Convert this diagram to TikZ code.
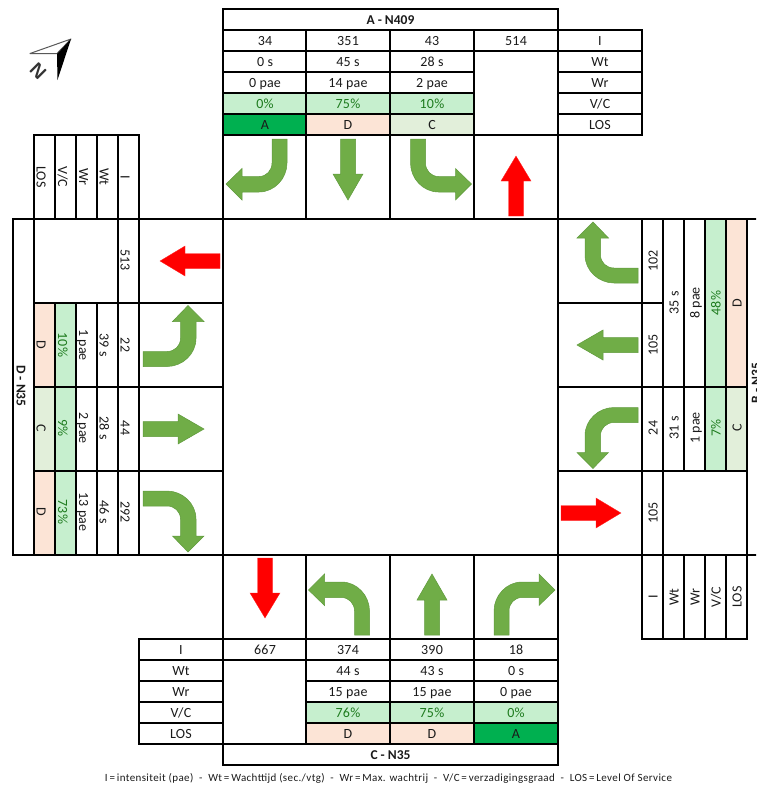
\documentclass[tikz,border=0pt]{standalone}
\usepackage{fontspec}
\setmainfont{Carlito}
\newfontfamily\tablefont[LetterSpace=1.5]{Carlito}
\newfontfamily\legendfont[LetterSpace=3.5]{Carlito}
\definecolor{greenfill}{HTML}{70AD47}
\definecolor{greenedge}{HTML}{5F9A3C}
\definecolor{vcfill}{HTML}{C6EFCE}
\definecolor{vctext}{HTML}{1E7B1E}
\definecolor{losd}{HTML}{FCE4D6}
\definecolor{losc}{HTML}{E2EFDA}
\definecolor{losa}{HTML}{00B050}
\definecolor{txt}{HTML}{1A1A1A}
\tikzset{
  gridline/.style={line width=1.4pt,black,line cap=rect},
  cell/.style={inner sep=0pt,text height=9pt,text depth=0pt,text=txt,font=\tablefont\fontsize{14}{16}\selectfont},
  vc/.style={cell,text=vctext},
  titlecell/.style={cell,font=\fontsize{13.5}{15}\selectfont\bfseries},
  down/.style={rotate=-90},
  up/.style={rotate=90},
  greenarrow/.style={fill=greenfill,draw=greenedge,line width=0.5pt},
  redarrow/.style={fill=red,draw=red!85!white,line width=0.3pt},
  turnright/.pic={\path[greenarrow] (-22,38) -- (-22,14) .. controls (-22,-1.5) and (-9.5,-15) .. (6,-15) -- (23,-15) -- (23,-23) -- (39,-7) -- (23,8.5) -- (23,0.5) -- (6,0.5) .. controls (-1.5,0.5) and (-7,6.5) .. (-7,14) -- (-7,38) -- cycle;},
  turnleft/.pic={\path[greenarrow] (21.5,38) -- (21.5,14) .. controls (21.5,-1.5) and (9,-15) .. (-6.5,-15) -- (-23.5,-15) -- (-23.5,-23) -- (-39.5,-7) -- (-23.5,8.5) -- (-23.5,0.5) -- (-6.5,0.5) .. controls (1,0.5) and (6.5,6.5) .. (6.5,14) -- (6.5,38) -- cycle;},
  straight/.pic={\path[greenarrow] (-7.5,38) -- (-7.5,3) -- (-15,3) -- (0,-23) -- (15,3) -- (7.5,3) -- (7.5,38) -- cycle;},
  exitarrow/.pic={\path[redarrow] (-7.5,-39) -- (-7.5,-4) -- (-15,-4) -- (0,21) -- (15,-4) -- (7.5,-4) -- (7.5,-39) -- cycle;},
}
\begin{document}
\begin{tikzpicture}[x=1pt,y=-1pt]
\useasboundingbox (0,0) rectangle (756,785);
\clip (0,0) rectangle (756,785);
% ---- cell fills: top
\fill[vcfill] (223,93) rectangle (474,114);
\fill[losa] (223,114) rectangle (306,135);
\fill[losd] (306,114) rectangle (390,135);
\fill[losc] (390,114) rectangle (474,135);
% ---- cell fills: bottom
\fill[vcfill] (306,702) rectangle (558,723);
\fill[losd] (306,723) rectangle (474,744);
\fill[losa] (474,723) rectangle (558,744);
% ---- cell fills: left
\fill[vcfill] (55,303) rectangle (76,555);
\fill[losd] (34,303) rectangle (55,387);
\fill[losc] (34,387) rectangle (55,471);
\fill[losd] (34,471) rectangle (55,555);
% ---- cell fills: right
\fill[vcfill] (705,219) rectangle (726,471);
\fill[losd] (726,219) rectangle (747,387);
\fill[losc] (726,387) rectangle (747,471);
% ---- top table lines
\draw[gridline] (223,9) -- (558,9);
\draw[gridline] (223,30) -- (642,30);
\draw[gridline] (223,51) -- (642,51);
\draw[gridline] (223,72) -- (474,72) (558,72) -- (642,72);
\draw[gridline] (223,93) -- (474,93) (558,93) -- (642,93);
\draw[gridline] (223,114) -- (474,114) (558,114) -- (642,114);
\draw[gridline] (223,135) -- (642,135);
\draw[gridline] (223,9) -- (223,765);
\draw[gridline] (558,9) -- (558,765);
\draw[gridline] (642,30) -- (642,135);
\draw[gridline] (306,30) -- (306,219);
\draw[gridline] (390,30) -- (390,219);
\draw[gridline] (474,30) -- (474,219);
% ---- centre square
\draw[gridline] (13,219) -- (756,219);
\draw[gridline] (13,555) -- (756,555);
% ---- left table lines
\draw[gridline] (13,219) -- (13,555);
\draw[gridline] (34,135) -- (118,135) (118,135) -- (139,135);
\draw[gridline] (34,135) -- (34,555);
\draw[gridline] (55,135) -- (55,219) (55,303) -- (55,555);
\draw[gridline] (76,135) -- (76,219) (76,303) -- (76,555);
\draw[gridline] (97,135) -- (97,219) (97,303) -- (97,555);
\draw[gridline] (118,135) -- (118,555);
\draw[gridline] (139,135) -- (139,555);
\draw[gridline] (34,303) -- (223,303);
\draw[gridline] (34,387) -- (223,387);
\draw[gridline] (34,471) -- (223,471);
% ---- right table lines
\draw[gridline] (558,303) -- (663,303);
\draw[gridline] (558,387) -- (747,387);
\draw[gridline] (558,471) -- (747,471);
\draw[gridline] (642,219) -- (642,639);
\draw[gridline] (663,219) -- (663,639);
\draw[gridline] (684,387) -- (684,471) (684,219) -- (684,387) (684,555) -- (684,639);
\draw[gridline] (705,219) -- (705,471) (705,555) -- (705,639);
\draw[gridline] (726,219) -- (726,471) (726,555) -- (726,639);
\draw[gridline] (747,219) -- (747,639);
\draw[gridline] (642,639) -- (747,639);
% ---- bottom table lines
\draw[gridline] (139,639) -- (558,639);
\draw[gridline] (139,660) -- (558,660);
\draw[gridline] (139,681) -- (223,681) (306,681) -- (558,681);
\draw[gridline] (139,702) -- (223,702) (306,702) -- (558,702);
\draw[gridline] (139,723) -- (223,723) (306,723) -- (558,723);
\draw[gridline] (139,744) -- (558,744);
\draw[gridline] (223,765) -- (558,765);
\draw[gridline] (139,639) -- (139,744);
\draw[gridline] (306,555) -- (306,744);
\draw[gridline] (390,555) -- (390,744);
\draw[gridline] (474,555) -- (474,744);
% ---- arrows
\path (265,177) pic[rotate=180] {turnright};
\path (348,177) pic[rotate=180] {straight};
\path (432,177) pic[rotate=180] {turnleft};
\path (516,177) pic[rotate=180] {exitarrow};
\path (265,597) pic {exitarrow};
\path (348,597) pic {turnleft};
\path (432,597) pic {straight};
\path (516,597) pic {turnright};
\path (181,261) pic[rotate=-90] {exitarrow};
\path (181,345) pic[rotate=-90] {turnleft};
\path (181,429) pic[rotate=-90] {straight};
\path (181,513) pic[rotate=-90] {turnright};
\path (600,261) pic[rotate=90] {turnright};
\path (600,345) pic[rotate=90] {straight};
\path (600,429) pic[rotate=90] {turnleft};
\path (600,513) pic[rotate=90] {exitarrow};
% ---- top texts
\node[titlecell] (Atitle) at (390.5,20) {A - N409};
\node[cell] (A1) at (265,41) {34};
\node[cell] (A2) at (348,41) {351};
\node[cell] (A3) at (432,41) {43};
\node[cell] (A4) at (516,41) {514};
\node[cell] (AI) at (600,41) {I};
\node[cell] (A5) at (265,62) {0 s};
\node[cell] (A6) at (348,62) {45 s};
\node[cell] (A7) at (432,62) {28 s};
\node[cell] (AWt) at (600,62) {Wt};
\node[cell] (A8) at (265,83) {0 pae};
\node[cell] (A9) at (348,83) {14 pae};
\node[cell] (A10) at (432,83) {2 pae};
\node[cell] (AWr) at (600,83) {Wr};
\node[vc] (A11) at (265,104) {0\%};
\node[vc] (A12) at (348,104) {75\%};
\node[vc] (A13) at (432,104) {10\%};
\node[cell] (AVC) at (600,104) {V/C};
\node[cell] (A14) at (265,125) {A};
\node[cell] (A15) at (348,125) {D};
\node[cell] (A16) at (432,125) {C};
\node[cell] (ALOS) at (600,125) {LOS};
% ---- bottom texts
\node[cell] (CI) at (181,650) {I};
\node[cell] (C1) at (265,650) {667};
\node[cell] (C2) at (348,650) {374};
\node[cell] (C3) at (432,650) {390};
\node[cell] (C4) at (516,650) {18};
\node[cell] (CWt) at (181,671) {Wt};
\node[cell] (C5) at (348,671) {44 s};
\node[cell] (C6) at (432,671) {43 s};
\node[cell] (C7) at (516,671) {0 s};
\node[cell] (CWr) at (181,692) {Wr};
\node[cell] (C8) at (348,692) {15 pae};
\node[cell] (C9) at (432,692) {15 pae};
\node[cell] (C10) at (516,692) {0 pae};
\node[cell] (CVC) at (181,713) {V/C};
\node[vc] (C11) at (348,713) {76\%};
\node[vc] (C12) at (432,713) {75\%};
\node[vc] (C13) at (516,713) {0\%};
\node[cell] (CLOS) at (181,734) {LOS};
\node[cell] (C14) at (348,734) {D};
\node[cell] (C15) at (432,734) {D};
\node[cell] (C16) at (516,734) {A};
\node[titlecell] (Ctitle) at (390.5,755) {C - N35};
% ---- left texts
\node[titlecell,down] (Dtitle) at (21,386) {D - N35};
\node[cell,down] (DLOS) at (41,177) {LOS};
\node[cell,down] (DVC) at (62.5,177) {V/C};
\node[cell,down] (DWr) at (83.5,177) {Wr};
\node[cell,down] (DWt) at (104,177) {Wt};
\node[cell,down] (DI) at (125,177) {I};
\node[cell,down] (D1) at (125,260) {513};
\node[cell,down] (D2) at (125,345) {22};
\node[cell,down] (D3) at (125,428) {44};
\node[cell,down] (D4) at (125,512) {292};
\node[cell,down] (D5) at (104,345) {39 s};
\node[cell,down] (D6) at (104,428) {28 s};
\node[cell,down] (D7) at (104,512) {46 s};
\node[cell,down] (D8) at (83.5,345) {1 pae};
\node[cell,down] (D9) at (83.5,428) {2 pae};
\node[cell,down] (D10) at (83.5,512) {13 pae};
\node[vc,down] (D11) at (62.5,345) {10\%};
\node[vc,down] (D12) at (62.5,428) {9\%};
\node[vc,down] (D13) at (62.5,512) {73\%};
\node[cell,down] (D14) at (41,345) {D};
\node[cell,down] (D15) at (41,428) {C};
\node[cell,down] (D16) at (41,512) {D};
% ---- right texts
\node[titlecell,up] (Btitle) at (756,383) {B - N35};
\node[cell,up] (B1) at (653,261) {102};
\node[cell,up] (B2) at (653,345) {105};
\node[cell,up] (B3) at (653,428) {24};
\node[cell,up] (B4) at (653,513) {105};
\node[cell,up] (BI) at (653,597) {I};
\node[cell,up] (B5) at (674,303) {35 s};
\node[cell,up] (B6) at (674,428) {31 s};
\node[cell,up] (BWt) at (674,597) {Wt};
\node[cell,up] (B7) at (695,303) {8 pae};
\node[cell,up] (B8) at (695,428) {1 pae};
\node[cell,up] (BWr) at (695,597) {Wr};
\node[vc,up] (B9) at (716,303) {48\%};
\node[vc,up] (B10) at (716,428) {7\%};
\node[cell,up] (BVC) at (716,597) {V/C};
\node[cell,up] (B11) at (737,303) {D};
\node[cell,up] (B12) at (737,428) {C};
\node[cell,up] (BLOS) at (737,597) {LOS};
% ---- footer
\node[cell,font=\legendfont\fontsize{11}{12}\selectfont,text height=7pt] (legend) at (388.5,778) {I\,=\,intensiteit (pae)\ \ -\ \ Wt\,=\,Wachttijd (sec./vtg)\ \ -\ \ Wr\,=\,Max. wachtrij\ \ -\ \ V/C\,=\,verzadigingsgraad\ \ -\ \ LOS\,=\,Level Of Service};
% ---- north arrow
\fill[white] (30,53) -- (71,39) -- (57,54) -- cycle;
\draw[gray!70!black,line width=1pt,line join=round] (30,53.5) -- (71,39) -- (57,53.5) -- cycle;
\fill[black] (71,39) -- (57,54) -- (57.5,80) -- cycle;
\node[font=\fontsize{19}{19}\selectfont\sffamily\bfseries,text=black!80,rotate=-45,inner sep=0pt] (north) at (38,71) {N};
\end{tikzpicture}
\end{document}
